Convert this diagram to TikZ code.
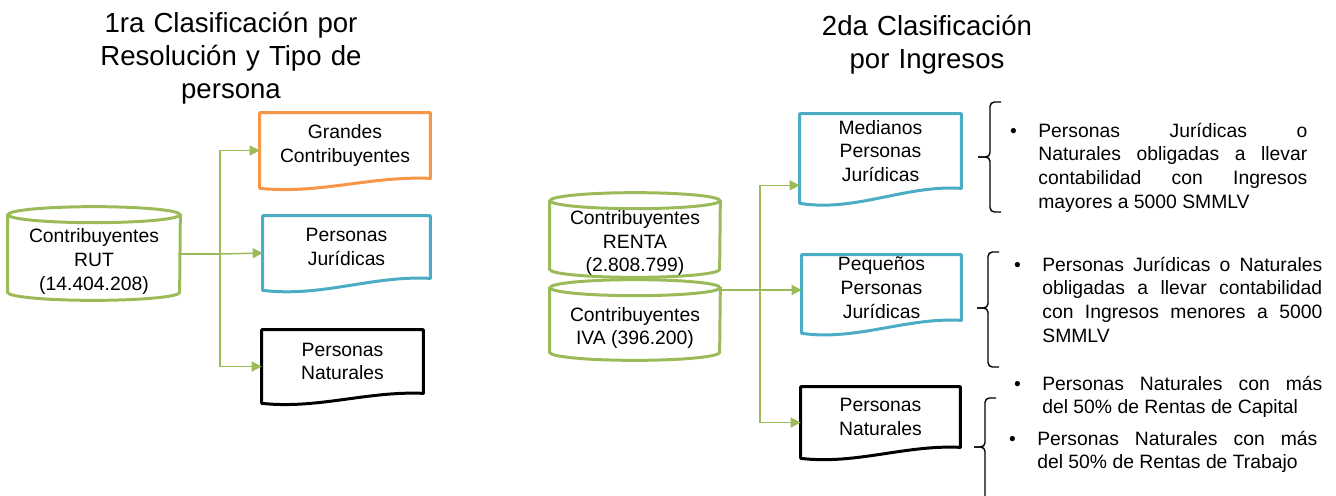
\documentclass[tikz,border=0pt]{standalone}
\usepackage{fontspec}
\setmainfont{Liberation Sans}
\usetikzlibrary{calc,positioning,arrows.meta}
\definecolor{gorange}{HTML}{F79646}
\definecolor{gblue}{HTML}{4BACC6}
\definecolor{ggreen}{HTML}{9BBB59}
\tikzset{
  title/.style={font=\fontsize{15.7}{18.8}\selectfont,align=center,text width=7cm,inner sep=0pt,anchor=base},
  doc/.style={font=\fontsize{11}{13.5}\selectfont,align=center,inner sep=0pt},
  docline/.style={line width=1.7pt,line join=round},
  cyl/.style={font=\fontsize{11}{13.5}\selectfont,align=center,inner sep=0pt},
  cylline/.style={ggreen,line width=1.7pt},
  trunk/.style={ggreen,line width=0.85pt},
  flow/.style={trunk,-{Triangle[length=2mm,width=2mm]}},
  brace/.style={line width=0.8pt,rounded corners=2.5pt},
  item/.style={font=\fontsize{11}{13.5}\selectfont,align=justify,text width=5.6cm,inner sep=0pt,anchor=base west}
}
% #1 wave depth, #2 node, #3 colour
\newcommand{\docshape}[3][12]{%
  \draw[docline,draw=#3] (#2.south east) .. controls ($(#2.south)+(25,{-0.25*#1})$) and ($(#2.south)+(-25,{1.6*#1})$) .. ($(#2.south west)+(0,#1)$) -- (#2.north west) -- (#2.north east) -- cycle;
  \coordinate (#2-in) at ($(#2.west)+(0,{#1/2})$);
}
% #1 node, #2 half width
\newcommand{\cylshape}[2]{%
  \draw[cylline] ($(#1.north west)+(0,-8)$) -- ($(#1.south west)+(0,-8)$) arc[start angle=180,end angle=360,x radius=#2,y radius=0.16cm] -- ($(#1.north east)+(0,-8)$);
  \draw[cylline] ($(#1.north)+(0,-8)$) ellipse[x radius=#2,y radius=0.16cm];
}
\newcommand{\itm}{\llap{\textbullet\hspace{0.43cm}}}

\begin{document}
\begin{tikzpicture}[x=0.02cm,y=-0.02cm]
\useasboundingbox (0,0) rectangle (1336,495);

%% 1ra clasificacion
\node[title] (tit1) at (231,32) {1ra Clasificación por\\Resolución y Tipo de\\persona};
\node[cyl,minimum width=3.44cm,minimum height=1.54cm] (rut) at (94,261.5) {Contribuyentes\\RUT\\(14.404.208)};
\cylshape{rut}{1.72cm}
\node[doc,minimum width=3.4cm,minimum height=1.3cm] (grandes) at (345,145.5) {Grandes\\Contribuyentes};
\docshape[10]{grandes}{gorange}
\node[doc,minimum width=3.34cm,minimum height=1.24cm] (jur1) at (346.5,247) {Personas\\Jurídicas};
\docshape[12]{jur1}{gblue}
\node[doc,minimum width=3.22cm,minimum height=1.26cm] (nat1) at (342.5,361.5) {Personas\\Naturales};
\docshape[10]{nat1}{black}

\coordinate (sp1) at (220,254);
\draw[trunk] (rut.east |- sp1) -- (sp1);
\draw[flow] (sp1) |- (grandes-in);
\draw[flow] (sp1) -- (jur1-in);
\draw[flow] (sp1) |- (nat1-in);

%% 2da clasificacion
\node[title] (tit2) at (927,35) {2da Clasificación\\por Ingresos};
\node[cyl,minimum width=3.4cm,minimum height=1.36cm] (renta) at (635,243) {Contribuyentes\\RENTA\\(2.808.799)};
\cylshape{renta}{1.7cm}
\node[cyl,minimum width=3.4cm,minimum height=1.28cm] (iva) at (635,328) {Contribuyentes\\IVA (396.200)};
\cylshape{iva}{1.7cm}
\node[doc,minimum width=3.22cm,minimum height=1.48cm] (med) at (880.5,151) {Medianos\\Personas\\Jurídicas};
\docshape[15]{med}{gblue}
\node[doc,minimum width=3.18cm,minimum height=1.3cm] (peq) at (881.5,287.5) {Pequeños\\Personas\\Jurídicas};
\docshape[13]{peq}{gblue}
\node[doc,minimum width=3.18cm,minimum height=1.2cm] (nat2) at (880.5,417) {Personas\\Naturales};
\docshape[11]{nat2}{black}

\coordinate (sp2) at (760,290);
\draw[trunk] (iva.east |- sp2) -- (sp2);
\draw[flow] (sp2) |- ($(med.south west)+(0,-3)$);
\draw[flow] (sp2) -- (sp2 -| peq.west);
\draw[flow] (sp2) |- (nat2-in);

%% llaves y descripciones
\draw[brace] (1001,102) -- (990,102) -- (990,157) -- (978,157);
\draw[brace] (978,157) -- (990,157) -- (990,212) -- (1001,212);
\draw[brace] (999,252) -- (988,252) -- (988,308) -- (977,308);
\draw[brace] (977,308) -- (988,308) -- (988,367) -- (999,367);
\draw[brace] (996,398) -- (985,398) -- (985,447) -- (974,447);
\draw[brace] (974,447) -- (985,447) -- (985,500);

\node[item,text width=5.38cm] (b1) at (1038,137) {\itm Personas Jurídicas o\linebreak Naturales obligadas a llevar\linebreak contabilidad con Ingresos\linebreak mayores a 5000 SMMLV};
\node[item] (b2) at (1042,271) {\itm Personas Jurídicas o Naturales\linebreak obligadas a llevar contabilidad\linebreak con Ingresos menores a 5000\linebreak SMMLV};
\node[item] (b3) at (1042,390) {\itm Personas Naturales con más\linebreak del 50\% de Rentas de Capital};
\node[item] (b4) at (1037,445) {\itm Personas Naturales con más\linebreak del 50\% de Rentas de Trabajo};
\end{tikzpicture}
\end{document}
